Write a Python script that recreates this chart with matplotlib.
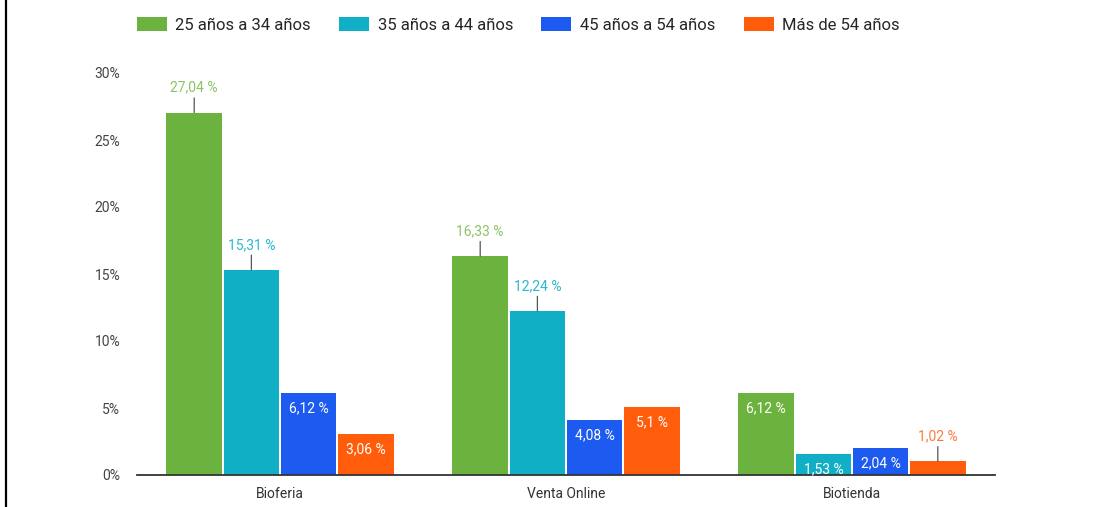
import matplotlib.pyplot as plt
from matplotlib.lines import Line2D
from matplotlib.patches import Patch
import numpy as np

plt.rcParams['font.family'] = ['Roboto', 'DejaVu Sans']

categories = ['Bioferia', 'Venta Online', 'Biotienda']
series = ['25 años a 34 años', '35 años a 44 años', '45 años a 54 años', 'Más de 54 años']
values = {
    '25 años a 34 años': [27.04, 16.33, 6.12],
    '35 años a 44 años': [15.31, 12.24, 1.53],
    '45 años a 54 años': [6.12, 4.08, 2.04],
    'Más de 54 años': [3.06, 5.1, 1.02],
}
yticks = [0, 5, 10, 15, 20, 25, 30]

colors = ['#6bb33e', '#11afc6', '#1c5af0', '#ff5d0c']
label_colors = ['#8cc267', '#2bb8cc', '#1c5af0', '#ff7a3a']

fig = plt.figure(figsize=(11.19, 5.07), dpi=100)
ax = fig.add_axes([137 / 1119, 32 / 507, 858 / 1119, 402 / 507])

x = np.arange(len(categories))
width = 0.2
for i, (name, col, lcol) in enumerate(zip(series, colors, label_colors)):
    pos = x + (i - 1.5) * width
    vals = values[name]
    ax.bar(pos, vals, width=width - 0.006, color=col, zorder=2)
    for px, v in zip(pos, vals):
        txt = f"{v:g}".replace('.', ',') + ' %'
        if 1.5 <= v < 10:
            # value fits inside the bar
            ax.annotate(txt, (px, v), xytext=(0, -11), textcoords='offset points',
                        ha='center', va='center', color='white', fontsize=10, zorder=3)
        else:
            ax.annotate(txt, (px, v), xytext=(0, 18), textcoords='offset points',
                        ha='center', va='center', color=lcol, fontsize=10,
                        annotation_clip=False, zorder=3)
            ax.annotate('', (px, v), xytext=(px, v + 1.1), textcoords='data',
                        arrowprops=dict(arrowstyle='-', color='#555555', lw=0.9,
                                        shrinkA=0, shrinkB=0),
                        annotation_clip=False)

ax.set_xlim(-0.5, 2.5)
ax.set_ylim(0, 30)
ax.set_xticks(x)
ax.set_xticklabels(categories, fontsize=10, color='#333333')
ax.set_yticks(yticks)
ax.set_yticklabels([f"{t}%" for t in yticks], fontsize=10, color='#444444')
ax.tick_params(axis='x', length=0, pad=9)
ax.tick_params(axis='y', length=0, pad=12)
for s in ['top', 'right', 'left']:
    ax.spines[s].set_visible(False)
ax.spines['bottom'].set_color('#333333')
ax.spines['bottom'].set_linewidth(1.3)

handles = [Patch(facecolor=c, edgecolor='none') for c in colors]
fig.legend(handles, series, loc='center left', bbox_to_anchor=(137 / 1119, 1 - 25 / 507),
           ncol=4, frameon=False, fontsize=12, handlelength=1.8, handleheight=0.85,
           handletextpad=0.5, columnspacing=1.7, borderpad=0, borderaxespad=0,
           labelcolor='#262626')

# black rule along the left edge
fig.add_artist(Line2D([5.5 / 1119, 5.5 / 1119], [0, 1], color='black', lw=1.6,
                      transform=fig.transFigure))

fig.savefig('out.png', dpi=100, facecolor='white')
